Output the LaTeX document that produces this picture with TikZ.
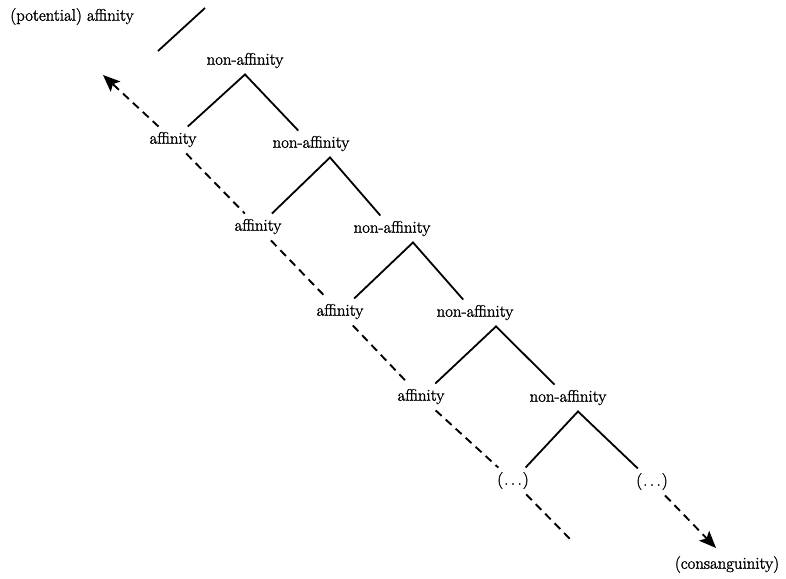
\documentclass[tikz,border=0pt]{standalone}
\usepackage{fontspec}
\usetikzlibrary{arrows.meta}
\newfontfamily\lblfont{Latin Modern Roman}[FakeBold=1.5]
\begin{document}
\begin{tikzpicture}[x=1pt,y=-1pt,
  lbl/.style={inner xsep=4pt, inner ysep=6pt, text height=11pt, text depth=3.5pt,
              font=\lblfont\fontsize{16.8}{19}\selectfont},
  branch/.style={line width=1.8pt},
  chain/.style={line width=1.9pt, dash pattern=on 8pt off 5.5pt},
  tip/.style={-{Stealth[length=17pt,width=14pt,inset=3.5pt]}}]
\useasboundingbox (0,0) rectangle (786,578);

% labels
\node[lbl] (pa) at (72,17)  {(potential) affinity};
\node[lbl] (n0) at (245,61) {non-affinity};
\node[lbl] (a1) at (173,140) {affinity};
\node[lbl] (n1) at (311,144) {non-affinity};
\node[lbl] (a2) at (258,227) {affinity};
\node[lbl] (n2) at (392,229) {non-affinity};
\node[lbl] (a3) at (340,312) {affinity};
\node[lbl] (n3) at (475,313) {non-affinity};
\node[lbl] (a4) at (421,397) {affinity};
\node[lbl] (n4) at (568,398) {non-affinity};
\node[lbl] (e1) at (513,481) {(\kern1pt.\kern2.5pt.\kern2.5pt.\kern1pt)};
\node[lbl] (e2) at (652,482) {(\kern1pt.\kern2.5pt.\kern2.5pt.\kern1pt)};
\node[lbl] (cs) at (727,565) {(consanguinity)};

% free ends
\coordinate (s1) at (158,51);
\coordinate (s2) at (205,8);
\coordinate (up) at (103,75);
\coordinate (dn) at (571,540);
\coordinate (tipdn) at (716,548);

% stroke under the top label
\draw[branch] (s1) -- (s2);

% branching of each non-affinity
\draw[branch] (a1) -- (n0.south) -- (n1);
\draw[branch] (a2) -- ([xshift=19pt]n1.south) -- (n2);
\draw[branch] (a3) -- ([xshift=21pt]n2.south) -- (n3);
\draw[branch] (a4) -- ([xshift=21pt]n3.south) -- (n4);
\draw[branch] (e1) -- ([xshift=10pt]n4.south) -- (e2);

% chain of affinities
\draw[chain,tip] (a1) -- (up);
\draw[chain] (a1) -- (a2);
\draw[chain] (a2) -- (a3);
\draw[chain] (a3) -- (a4);
\draw[chain] (a4) -- (e1);
\draw[chain] (e1) -- (dn);
\draw[chain,tip] (e2) -- (tipdn);
\end{tikzpicture}
\end{document}
